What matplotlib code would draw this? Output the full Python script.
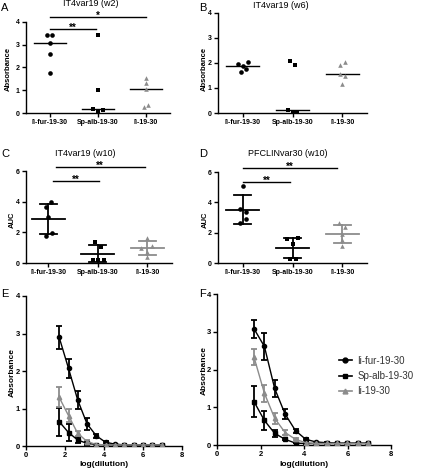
import matplotlib
matplotlib.use("Agg")
import matplotlib.pyplot as plt
from matplotlib.lines import Line2D
import numpy as np

plt.rcParams['font.family'] = ['Liberation Sans', 'DejaVu Sans']

W, H = 421, 469
BLACK = "#000000"
GRAY = "#8c8c8c"

groups = ["Ii-fur-19-30", "Sp-alb-19-30", "Ii-19-30"]
legend_labels = ["Ii-fur-19-30", "Sp-alb-19-30", "Ii-19-30"]

# Panel A: IT4var19 (w2), absorbance
A_fur = [3.45, 3.45, 3.07, 2.60, 1.76]
A_sp = [3.44, 1.01, 0.16, 0.03, 0.12]
A_ii = [1.56, 1.34, 1.05, 0.28, 0.34]
# Panel B: IT4var19 (w6)
B_fur = [1.95, 1.88, 2.03, 1.64, 1.76]
B_sp = [2.09, 1.92, 0.12, 0.03, 0.04]
B_ii = [1.92, 2.05, 1.56, 1.48, 1.15]
# Panel C: IT4var19 (w10), AUC
C_fur = [4.00, 3.63, 2.98, 1.98, 1.76]
C_sp = [1.39, 1.02, 0.20, 0.20, 0.20]
C_ii = [1.61, 0.96, 1.13, 0.74, 0.41]
# Panel D: PFCLINvar30 (w10), AUC
D_fur = [5.08, 3.58, 3.36, 2.88, 2.64]
D_sp = [1.56, 1.25, 1.63, 0.26, 0.26]
D_ii = [2.61, 2.35, 1.91, 1.52, 1.12]

# Panels E/F: titration curves (mean, SD)
dilution = [1.70, 2.18, 2.65, 3.13, 3.61, 4.08, 4.56, 5.04, 5.52, 5.99, 6.47, 6.95]
E_fur = [2.90, 2.07, 1.23, 0.59, 0.27, 0.10, 0.05, 0.03, 0.03, 0.03, 0.03, 0.03]
E_fur_sd = [0.31, 0.25, 0.24, 0.16, 0.06, 0.03, 0.01, 0.01, 0.01, 0.01, 0.01, 0.01]
E_sp = [0.65, 0.36, 0.16, 0.07, 0.04, 0.03, 0.03, 0.03, 0.03, 0.03, 0.03, 0.03]
E_sp_sd = [0.37, 0.22, 0.07, 0.03, 0.01, 0.01, 0.01, 0.01, 0.01, 0.01, 0.01, 0.01]
E_ii = [1.30, 0.81, 0.34, 0.12, 0.04, 0.03, 0.03, 0.03, 0.03, 0.03, 0.03, 0.03]
E_ii_sd = [0.27, 0.18, 0.07, 0.03, 0.01, 0.01, 0.01, 0.01, 0.01, 0.01, 0.01, 0.01]

F_fur = [3.08, 2.61, 1.50, 0.82, 0.38, 0.15, 0.08, 0.06, 0.05, 0.05, 0.05, 0.05]
F_fur_sd = [0.24, 0.35, 0.22, 0.13, 0.05, 0.03, 0.01, 0.01, 0.01, 0.01, 0.01, 0.01]
F_sp = [1.15, 0.65, 0.31, 0.15, 0.05, 0.04, 0.04, 0.04, 0.04, 0.04, 0.04, 0.04]
F_sp_sd = [0.42, 0.25, 0.10, 0.03, 0.01, 0.01, 0.01, 0.01, 0.01, 0.01, 0.01, 0.01]
F_ii = [2.33, 1.37, 0.71, 0.33, 0.15, 0.06, 0.04, 0.04, 0.04, 0.04, 0.04, 0.04]
F_ii_sd = [0.22, 0.22, 0.15, 0.06, 0.03, 0.01, 0.01, 0.01, 0.01, 0.01, 0.01, 0.01]

# jitter offsets (layout only)
jit = {
    'A': ([-0.06, 0.05, 0, 0, 0], [0, 0, -0.1, 0, 0.11], [0, 0, 0, -0.04, 0.05]),
    'B': ([-0.09, 0, 0.11, -0.03, 0.06], [-0.06, 0.05, -0.1, 0, 0.09], [-0.05, 0.05, -0.05, 0.05, 0]),
    'C': ([0.06, -0.05, 0, 0.08, -0.05], [-0.05, 0.07, -0.1, 0, 0.13], [0, -0.13, 0.1, 0, 0]),
    'D': ([0, -0.055, 0.055, 0.07, -0.055], [-0.12, 0, 0.12, -0.055, 0.07], [-0.055, 0.06, 0, 0, 0]),
}

fig = plt.figure(figsize=(W / 100, H / 100), dpi=100)


def add_ax(l, t, r, b):
    return fig.add_axes([l / W, 1 - b / H, (r - l) / W, (b - t) / H])


def ftext(x, y, s, **kw):
    fig.text(x / W, 1 - y / H, s, **kw)


def style(ax, ls=5):
    for s in ['top', 'right']:
        ax.spines[s].set_visible(False)
    for s in ['left', 'bottom']:
        ax.spines[s].set_linewidth(1.0)
    ax.tick_params(direction='out', length=3, width=1, pad=1.5, labelsize=ls)
    for lab in ax.get_xticklabels() + ax.get_yticklabels():
        lab.set_fontweight('bold')


markers = ['o', 's', '^']
colors = [BLACK, BLACK, GRAY]


def dot_panel(ax, data, offs, stat, xlim, ylim, yticks):
    for i, (vals, off) in enumerate(zip(data, offs)):
        xs = np.full(len(vals), i) + np.array(off)
        ax.scatter(xs, vals, marker=markers[i], s=11, color=colors[i],
                   linewidths=0, zorder=3, clip_on=False)
        v = np.array(vals)
        if stat == 'median':
            m = np.median(v)
            ax.plot([i - 0.33, i + 0.33], [m, m], color=BLACK, lw=1.0, zorder=2)
        else:
            m = v.mean()
            sd = v.std(ddof=1)
            c = colors[i]
            ax.plot([i - 0.33, i + 0.33], [m, m], color=c, lw=1.3, zorder=2)
            ax.plot([i, i], [m - sd, m + sd], color=c, lw=1.3, zorder=2)
            for yy in (m - sd, m + sd):
                ax.plot([i - 0.17, i + 0.17], [yy, yy], color=c, lw=1.3, zorder=2)
    ax.set_xlim(*xlim)
    ax.set_ylim(*ylim)
    ax.set_yticks(yticks)
    ax.set_xticks([0, 1, 2])
    ax.set_xticklabels(groups)
    style(ax)


def sig(ax, x0, x1, y, txt, fs=7):
    ax.plot([x0, x1], [y, y], color=BLACK, lw=1.0, clip_on=False)
    ax.annotate(txt, xy=((x0 + x1) / 2, y), xytext=(0, -1.2), textcoords='offset points',
                ha='center', va='baseline', fontsize=fs, fontweight='bold',
                annotation_clip=False)


# Panel A
axA = add_ax(26, 22, 170, 113)
dot_panel(axA, [A_fur, A_sp, A_ii], jit['A'], 'median', (-0.5, 2.5), (0, 4), [0, 1, 2, 3, 4])
sig(axA, 0, 0.95, 3.70, '**')
sig(axA, 0, 2.0, 4.23, '*')

# Panel B
axB = add_ax(218, 13, 367, 113)
dot_panel(axB, [B_fur, B_sp, B_ii], jit['B'], 'median', (-0.5, 2.5), (0, 4), [0, 1, 2, 3, 4])

# Panel C
axC = add_ax(26, 171, 172, 263)
dot_panel(axC, [C_fur, C_sp, C_ii], jit['C'], 'mean', (-0.45, 2.5), (0, 6), [0, 2, 4, 6])
sig(axC, 0.1, 1.02, 5.35, '**')
sig(axC, 0.15, 1.95, 6.26, '**')

# Panel D
axD = add_ax(218, 172, 367, 263)
dot_panel(axD, [D_fur, D_sp, D_ii], jit['D'], 'mean', (-0.5, 2.5), (0, 6), [0, 2, 4, 6])
sig(axD, 0.0, 0.95, 5.34, '**')
sig(axD, 0.0, 1.9, 6.26, '**')


def curve_panel(ax, series, legend=False):
    for (m, sd), mk, c, lab in zip(series, markers, colors, legend_labels):
        ms = 3.0 if mk == 'o' else 3.2
        ax.errorbar(dilution, m, yerr=sd, color=c, marker=mk, ms=ms, lw=1.0,
                    elinewidth=1.3, capsize=2.5, capthick=1.3, zorder=3)
    ax.set_xlim(0, 8)
    ax.set_ylim(0, 4)
    ax.set_xticks([0, 2, 4, 6, 8])
    ax.set_yticks([0, 1, 2, 3, 4])
    style(ax, 5.5)
    if legend:
        handles = [Line2D([], [], color=c, marker=mk, ms=3.5, lw=1.2)
                   for mk, c in zip(markers, colors)]
        leg = fig.legend(handles=handles, labels=legend_labels, loc='center left',
                         bbox_to_anchor=(339 / W, 1 - 376 / H),
                         frameon=False, fontsize=7, handlelength=1.3, handletextpad=0.6,
                         labelspacing=0.55, borderaxespad=0, borderpad=0)
        for t in leg.get_texts():
            t.set_color('#333333')


axE = add_ax(26, 296, 182, 446)
curve_panel(axE, [(E_fur, E_fur_sd), (E_sp, E_sp_sd), (E_ii, E_ii_sd)])
axF = add_ax(217, 294, 391, 445)
curve_panel(axF, [(F_fur, F_fur_sd), (F_sp, F_sp_sd), (F_ii, F_ii_sd)], legend=True)

# Titles
ftext(91, 4, "IT4var19 (w2)", ha='center', va='center', fontsize=6.5)
ftext(281, 5, "IT4var19 (w6)", ha='center', va='center', fontsize=6.5)
ftext(85, 153, "IT4var19 (w10)", ha='center', va='center', fontsize=6.5)
ftext(288, 153, "PFCLINvar30 (w10)", ha='center', va='center', fontsize=6.5)

# Panel letters
for x, y, s in [(5, 8, 'A'), (203, 8, 'B'), (5, 154, 'C'), (203, 154, 'D'), (5, 294, 'E'), (202, 294, 'F')]:
    ftext(x, y, s, ha='center', va='center', fontsize=8)

# Axis labels
ftext(8, 69, "Absorbance", rotation=90, ha='center', va='center', fontsize=5.5, fontweight='bold')
ftext(204, 69, "Absorbance", rotation=90, ha='center', va='center', fontsize=5.5, fontweight='bold')
ftext(12, 220, "AUC", rotation=90, ha='center', va='center', fontsize=5.5, fontweight='bold')
ftext(205, 220, "AUC", rotation=90, ha='center', va='center', fontsize=5.5, fontweight='bold')
ftext(12, 372, "Absorbance", rotation=90, ha='center', va='center', fontsize=6, fontweight='bold')
ftext(204, 370, "Absorbance", rotation=90, ha='center', va='center', fontsize=6, fontweight='bold')
ftext(104, 464, "log(dilution)", ha='center', va='center', fontsize=6, fontweight='bold')
ftext(304, 464, "log(dilution)", ha='center', va='center', fontsize=6, fontweight='bold')

fig.savefig("out.png", dpi=100)
